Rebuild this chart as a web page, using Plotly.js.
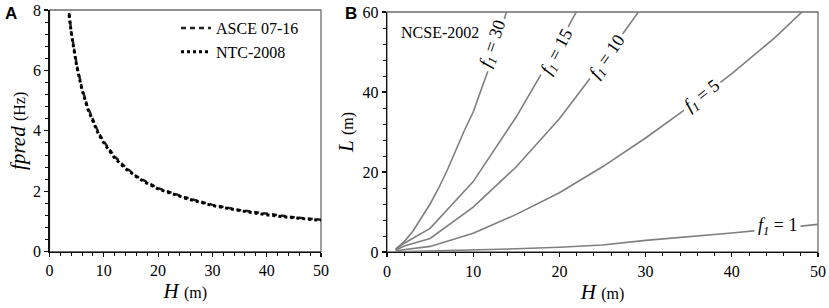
<!DOCTYPE html>
<html><head><meta charset="utf-8">
<script src="https://cdn.plot.ly/plotly-3.0.1.min.js"></script>
<style>body{margin:0;background:#fff;}#chart{width:829px;height:308px;}</style>
</head><body><div id="chart"></div>
<script>
// Panel A: predicted frequency vs height
const heightA = [3.6, 4, 5, 6, 7, 8, 9, 10, 12, 14, 16, 18, 20, 25, 30, 35, 40, 45, 50];
const fpredASCE = [7.9, 7.3, 6.2, 5.4, 4.8, 4.35, 3.95, 3.65, 3.15, 2.8, 2.5, 2.3, 2.1, 1.8, 1.55, 1.38, 1.25, 1.14, 1.06];
const fpredNTC = [7.85, 7.25, 6.15, 5.35, 4.75, 4.3, 3.9, 3.6, 3.1, 2.75, 2.48, 2.26, 2.08, 1.77, 1.53, 1.36, 1.22, 1.12, 1.04];
const seriesA = ["ASCE 07-16", "NTC-2008"];

// Panel B: NCSE-2002 length vs height for given f1
const heightB30 = [1, 2, 3, 4, 5, 6, 7, 8, 9, 10, 12, 14];
const L_f30 = [0.7, 2.6, 5.2, 8.5, 12, 16, 20.5, 25.5, 30.5, 35, 47, 61];
const heightB = [1, 2, 5, 10, 15, 20, 25, 30, 35, 40, 45, 50];
const L_f15 = [0.7, 2.2, 5.9, 17.6, 33.8, 52.3, 72];
const L_f10 = [0.5, 1.5, 3.4, 11.2, 21.3, 33.3, 47.5, 62.5];
const L_f5 = [0.3, 0.6, 1.4, 4.7, 9.4, 14.8, 21.3, 28.5, 36.3, 44.6, 53.6, 63.8];
const L_f1 = [0.05, 0.1, 0.2, 0.45, 0.8, 1.2, 1.75, 2.9, 3.8, 4.75, 5.8, 6.9];
const f1Values = [30, 15, 10, 5, 1];
const curveLabelH = [12.3, 19.8, 25.6, 36.6, 45.3];
const curveLabelL = [52, 49.8, 48.6, 38.8, 6.3];
const curveLabelAngle = [-71, -62, -55, -38, 0];

const serif = "Liberation Serif";
const curvesB = [[heightB30, L_f30], [heightB, L_f15], [heightB, L_f10], [heightB, L_f5], [heightB, L_f1]];

const traces = [
  {x: heightA, y: fpredASCE, name: seriesA[0], mode: "lines", xaxis: "x", yaxis: "y",
   line: {color: "#222", width: 2.5, dash: "5px,4px"}},
  {x: heightA, y: fpredNTC, name: seriesA[1], mode: "lines", xaxis: "x", yaxis: "y",
   line: {color: "#000", width: 3, dash: "dot"}}
];
curvesB.forEach(([H, L]) => {
  traces.push({x: H.slice(0, L.length), y: L, mode: "lines", xaxis: "x2", yaxis: "y2",
    showlegend: false, line: {color: "#7f7f7f", width: 1.6}});
});

const annotations = [
  {text: "<b>A</b>", xref: "paper", yref: "paper", x: 3/829, y: 1 - 2/308, xanchor: "left", yanchor: "top",
   showarrow: false, font: {family: "Liberation Sans", size: 17, color: "#000"}},
  {text: "<b>B</b>", xref: "paper", yref: "paper", x: 343/829, y: 1 - 2/308, xanchor: "left", yanchor: "top",
   showarrow: false, font: {family: "Liberation Sans", size: 17, color: "#000"}},
  {text: "NCSE-2002", xref: "x2", yref: "y2", x: 1.4, y: 54.8, xanchor: "left", yanchor: "middle",
   showarrow: false, font: {family: serif, size: 16, color: "#000"}}
];
f1Values.forEach((f, i) => {
  annotations.push({text: "<i>f</i><sub><i>1</i></sub> = " + f, xref: "x2", yref: "y2",
    x: curveLabelH[i], y: curveLabelL[i], textangle: curveLabelAngle[i], showarrow: false,
    bgcolor: "#fff", borderpad: 3, font: {family: serif, size: 18, color: "#000"}});
});

function axis(extra) {
  return Object.assign({
    showgrid: false, zeroline: false, showline: true, linecolor: "#111", linewidth: 1.3,
    ticks: "outside", ticklen: 4, tickwidth: 1.2, tickcolor: "#111",
    tickfont: {family: "Liberation Serif", size: 16, color: "#000"},
    automargin: false, fixedrange: true
  }, extra);
}
function minor(d) { return {dtick: d, ticks: "outside", ticklen: 3, tickwidth: 1, tickcolor: "#111"}; }
function title(t, s) {
  return {text: t, font: {family: serif, size: 21, color: "#000"}, standoff: s};
}
const unit = u => " <span style='font-size:16px;font-family:Liberation Serif'>(" + u + ")</span>";

const layout = {
  width: 829, height: 308,
  margin: {l: 0, r: 0, t: 0, b: 0},
  font: {family: "Liberation Serif", size: 16, color: "#000"},
  paper_bgcolor: "#fff", plot_bgcolor: "#fff",
  showlegend: true,
  legend: {x: 176/829, y: 1 - 11/308, xanchor: "left", yanchor: "top", bgcolor: "rgba(0,0,0,0)",
    font: {family: serif, size: 16, color: "#000"}, itemwidth: 30},
  xaxis: axis({domain: [49.5/829, 321/829], range: [0, 50], dtick: 10, anchor: "y", minor: minor(2),
    title: title("<i>H</i>" + unit("m"), 5)}),
  yaxis: axis({domain: [56.3/308, 298/308], range: [0, 8], dtick: 2, anchor: "x", minor: minor(0.4),
    title: title("<i>fpred</i>" + unit("Hz"), 1)}),
  xaxis2: axis({domain: [387/829, 818/829], range: [0, 50], dtick: 10, anchor: "y2", minor: minor(2),
    title: title("<i>H</i>" + unit("m"), 5)}),
  yaxis2: axis({domain: [56/308, 296/308], range: [0, 60], dtick: 20, anchor: "x2", minor: minor(4),
    title: title("<i>L</i>" + unit("m"), 3)}),
  shapes: [
    {type: "rect", xref: "x domain", yref: "y domain", x0: 0, x1: 1, y0: 0, y1: 1, layer: "below",
     line: {color: "#6e6e6e", width: 1.3}},
    {type: "rect", xref: "x2 domain", yref: "y2 domain", x0: 0, x1: 1, y0: 0, y1: 1, layer: "below",
     line: {color: "#6e6e6e", width: 1.3}}
  ],
  annotations: annotations
};

Plotly.newPlot("chart", traces, layout, {staticPlot: true, displayModeBar: false});
</script>
</body></html>
